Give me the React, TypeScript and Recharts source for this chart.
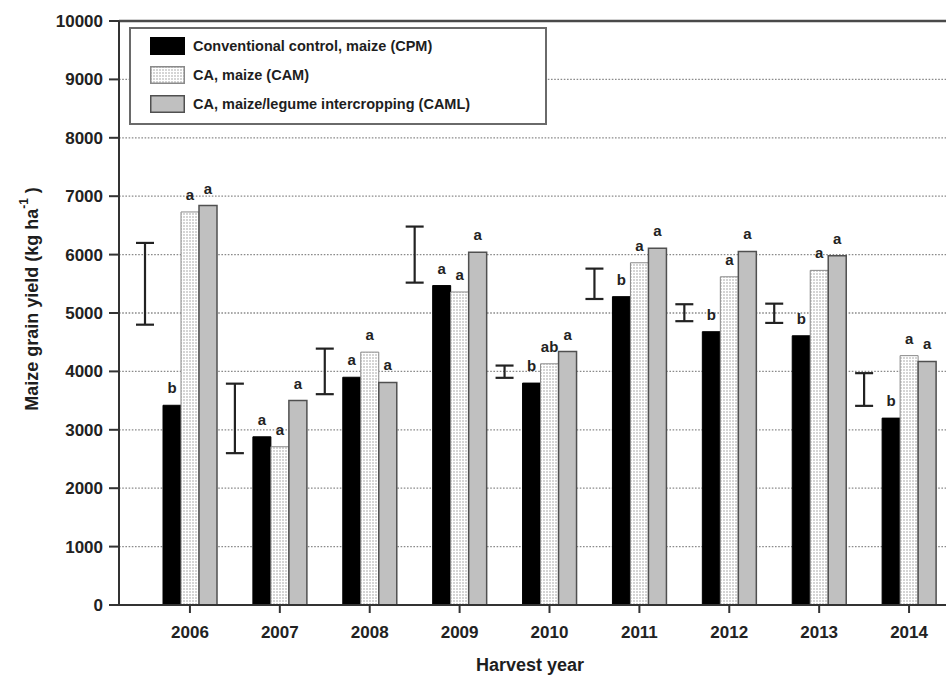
import React from 'react';
import {
  ComposedChart,
  Bar,
  XAxis,
  YAxis,
  CartesianGrid,
  Scatter,
  ErrorBar,
  LabelList,
  Legend,
  ReferenceLine,
} from 'recharts';

// ---------- data ----------
const years = ['2006', '2007', '2008', '2009', '2010', '2011', '2012', '2013', '2014'];
const cpm = [3420, 2880, 3900, 5470, 3800, 5280, 4680, 4610, 3200];
const cam = [6730, 2710, 4330, 5360, 4130, 5860, 5620, 5730, 4270];
const caml = [6840, 3500, 3810, 6040, 4340, 6110, 6055, 5980, 4170];
const lsdLow = [4800, 2600, 3610, 5520, 3890, 5240, 4860, 4830, 3410];
const lsdHigh = [6200, 3790, 4390, 6480, 4100, 5760, 5150, 5160, 3970];
const cpmLetters = ['b', 'a', 'a', 'a', 'b', 'b', 'b', 'b', 'b'];
const camLetters = ['a', 'a', 'a', 'a', 'ab', 'a', 'a', 'a', 'a'];
const camlLetters = ['a', 'a', 'a', 'a', 'a', 'a', 'a', 'a', 'a'];
const yTicks = [0, 1000, 2000, 3000, 4000, 5000, 6000, 7000, 8000, 9000, 10000];

const seriesKeys = ['cpm', 'cam', 'caml'];
const seriesNames: Record<string, string> = {
  cpm: 'Conventional control, maize (CPM)',
  cam: 'CA, maize (CAM)',
  caml: 'CA, maize/legume intercropping (CAML)',
};

const data = years.map((year, i) => ({
  year,
  cpm: cpm[i],
  cam: cam[i],
  caml: caml[i],
  cpmL: cpmLetters[i],
  camL: camLetters[i],
  camlL: camlLetters[i],
}));

const lsdData = years.map((y, i) => ({
  x: Number(y) - 0.5,
  mid: (lsdLow[i] + lsdHigh[i]) / 2,
  half: (lsdHigh[i] - lsdLow[i]) / 2,
}));

// ---------- styles ----------
const FONT = '"Liberation Sans", Arial, Helvetica, sans-serif';
const swatch: Record<string, { fill: string; stroke: string }> = {
  cpm: { fill: '#000000', stroke: '#000000' },
  cam: { fill: 'url(#dotsPattern)', stroke: '#8a8a8a' },
  caml: { fill: '#c0c0c0', stroke: '#505050' },
};

const letterProps = {
  position: 'top' as const,
  offset: 12,
  fill: '#222',
  fontSize: 15,
  fontWeight: 'bold',
  fontFamily: FONT,
};

const renderLegend = (props: any) => {
  const payload = props.payload || [];
  const items = seriesKeys
    .map((k) => payload.find((p: any) => p.dataKey === k))
    .filter(Boolean);
  return (
    <div
      style={{
        width: 414,
        height: 94,
        border: '2px solid #6a6a6a',
        background: '#fff',
        position: 'relative',
      }}
    >
      {items.map((it: any, i: number) => {
        const s = swatch[it.dataKey as string];
        return (
          <div
            key={i}
            style={{
              position: 'absolute',
              left: 19,
              top: 8 + i * 29,
              height: 18,
              display: 'flex',
              alignItems: 'center',
            }}
          >
            <svg width={35} height={18} style={{ display: 'block' }}>
              <rect x={0.75} y={0.75} width={33.5} height={16.5} fill={s.fill} stroke={s.stroke} strokeWidth={1.5} />
            </svg>
            <span
              style={{
                marginLeft: 8,
                fontFamily: FONT,
                fontWeight: 'bold',
                fontSize: 14.5,
                color: '#1e1e1e',
                whiteSpace: 'nowrap',
              }}
            >
              {it.value}
            </span>
          </div>
        );
      })}
    </div>
  );
};

const YLabel = () => (
  <text
    transform="translate(38, 299) rotate(-90)"
    textAnchor="middle"
    fontFamily={FONT}
    fontWeight="bold"
    fontSize={18}
    fill="#1e1e1e"
  >
    Maize grain yield (kg ha
    <tspan dy={-10} fontSize={12}>-1</tspan>
    <tspan dy={10}> )</tspan>
  </text>
);

const XLabel = () => (
  <text x={530} y={671} textAnchor="middle" fontFamily={FONT} fontWeight="bold" fontSize={18} fill="#1e1e1e">
    Harvest year
  </text>
);

export default function App() {
  return (
    <div
      style={{
        position: 'fixed',
        left: 0,
        top: 0,
        width: 946,
        height: 677,
        overflow: 'hidden',
        background: '#fff',
      }}
    >
      <ComposedChart
        width={960}
        height={677}
        data={data}
        margin={{ top: 21, right: 6, left: 0, bottom: 42 }}
        barCategoryGap={18}
        barGap={0}
        style={{ overflow: 'visible' }}
      >
        <defs>
          <pattern id="dotsPattern" width={3} height={3} patternUnits="userSpaceOnUse">
            <rect x={0} y={0} width={3} height={3} fill="#ffffff" />
            <circle cx={1} cy={1} r={0.7} fill="#8c8c8c" />
          </pattern>
        </defs>
        <CartesianGrid vertical={false} stroke="#8a8a8a" strokeDasharray="1.6 1.6" strokeWidth={1.3} />
        <XAxis
          dataKey="year"
          type="category"
          padding={{ left: 26, right: 0 }}
          height={30}
          tickSize={8}
          tickMargin={13}
          axisLine={{ stroke: '#333', strokeWidth: 2 }}
          tickLine={{ stroke: '#333', strokeWidth: 2 }}
          tick={{ fill: '#222', fontSize: 17, fontWeight: 'bold', fontFamily: FONT }}
          label={{ content: XLabel }}
        />
        <XAxis
          xAxisId="num"
          dataKey="x"
          type="number"
          domain={[2005.5, 2014.5]}
          allowDataOverflow
          padding={{ left: 26, right: 0 }}
          hide
        />
        <YAxis
          width={119}
          domain={[0, 10000]}
          ticks={yTicks}
          interval={0}
          tickSize={10}
          tickMargin={6}
          axisLine={{ stroke: '#333', strokeWidth: 2 }}
          tickLine={{ stroke: '#333', strokeWidth: 2 }}
          tick={{ fill: '#222', fontSize: 17, fontWeight: 'bold', fontFamily: FONT }}
          label={{ content: YLabel }}
        />
        <ReferenceLine y={10000} stroke="#4a4a4a" strokeWidth={2.5} />
        <Legend
          content={renderLegend}
          layout="horizontal"
          verticalAlign="middle"
          align="center"
          wrapperStyle={{ left: 129, top: 27, width: 418, height: 98 }}
        />
        <Bar dataKey="cpm" name={seriesNames.cpm} fill="#000" stroke="#000" strokeWidth={1} isAnimationActive={false}>
          <LabelList dataKey="cpmL" {...letterProps} />
        </Bar>
        <Bar
          dataKey="cam"
          name={seriesNames.cam}
          fill="url(#dotsPattern)"
          stroke="#8a8a8a"
          strokeWidth={1}
          isAnimationActive={false}
        >
          <LabelList dataKey="camL" {...letterProps} />
        </Bar>
        <Bar dataKey="caml" name={seriesNames.caml} fill="#c0c0c0" stroke="#505050" strokeWidth={1.5} isAnimationActive={false}>
          <LabelList dataKey="camlL" {...letterProps} />
        </Bar>
        <Scatter
          data={lsdData}
          xAxisId="num"
          dataKey="mid"
          legendType="none"
          shape={() => <g />}
          isAnimationActive={false}
        >
          <ErrorBar dataKey="half" direction="y" width={9} stroke="#222" strokeWidth={2.2} isAnimationActive={false} />
        </Scatter>
      </ComposedChart>
    </div>
  );
}
